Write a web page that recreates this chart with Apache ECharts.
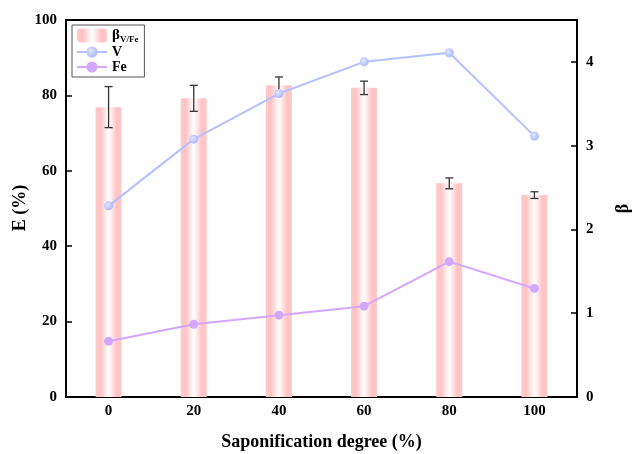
<!DOCTYPE html>
<html><head><meta charset="utf-8">
<script src="https://cdn.jsdelivr.net/npm/echarts@6/dist/echarts.min.js"></script>
<style>html,body{margin:0;padding:0;background:#fff}#c{width:636px;height:454px}</style>
</head><body><div id="c"></div>
<script>
var categories = ['0', '20', '40', '60', '80', '100'];
var betaValues = [3.46, 3.565, 3.72, 3.69, 2.55, 2.41];
var betaErrors = [0.245, 0.155, 0.1, 0.08, 0.065, 0.04];
var vValues = [50.7, 68.4, 80.5, 88.9, 91.3, 69.2];
var feValues = [14.8, 19.3, 21.7, 24.1, 35.9, 28.8];
var leftTicks = [0, 20, 40, 60, 80, 100];
var rightTicks = [0, 1, 2, 3, 4];
var leftTitle = 'E (%)';

var errData = betaValues.map(function (v, i) { return [i, v - betaErrors[i], v + betaErrors[i]]; });
var font = 'Liberation Serif';
var chart = echarts.init(document.getElementById('c'), null, {renderer: 'canvas'});
var barGrad = new echarts.graphic.LinearGradient(0, 0, 1, 0, [
  {offset: 0, color: '#ffcaca'}, {offset: 0.18, color: '#ffc2c2'},
  {offset: 0.5, color: '#ffffff'}, {offset: 0.82, color: '#ffc2c2'}, {offset: 1, color: '#ffcaca'}
]);
chart.setOption({
  animation: false,
  textStyle: {fontFamily: font},
  grid: {left: 66, right: 59, top: 20, bottom: 57, outerBoundsMode: 'none', containLabel: false,
    show: true, borderColor: '#000', borderWidth: 2, backgroundColor: 'transparent'},
  graphic: [{
    type: 'text', x: 20, y: 208, rotation: Math.PI / 2,
    style: {text: leftTitle, align: 'center', verticalAlign: 'middle',
      font: 'bold 18px "Liberation Serif"', fill: '#000'}
  }],
  legend: {
    orient: 'vertical', left: 72, top: 25, padding: [3, 6, 3, 4], itemGap: 1,
    itemWidth: 30, itemHeight: 14,
    borderColor: '#555', borderWidth: 1,
    data: ['beta', 'V', 'Fe'],
    formatter: function (n) { return n === 'beta' ? '{b|β}{s|V/Fe}' : n; },
    textStyle: {fontFamily: font, fontWeight: 'bold', fontSize: 14, color: '#000',
      rich: {b: {fontFamily: font, fontWeight: 'bold', fontSize: 15, color: '#000'},
             s: {fontFamily: font, fontWeight: 'bold', fontSize: 9, color: '#000', padding: [8, 0, 0, 0]}}}
  },
  xAxis: {
    type: 'category', data: categories, boundaryGap: true,
    name: 'Saponification degree (%)', nameLocation: 'middle', nameGap: 36,
    nameTextStyle: {fontFamily: font, fontWeight: 'bold', fontSize: 18, color: '#000'},
    axisLine: {lineStyle: {color: '#000', width: 2}},
    axisTick: {inside: true, alignWithLabel: true, length: 5, lineStyle: {color: '#000', width: 1.5}},
    axisLabel: {fontFamily: font, fontWeight: 'bold', fontSize: 15, color: '#000', margin: 7},
    splitLine: {show: false}
  },
  yAxis: [{
    type: 'value', min: 0, max: 100, interval: 20, position: 'left',
    axisLine: {show: true, lineStyle: {color: '#000', width: 2}},
    axisTick: {show: true, inside: true, length: 6, lineStyle: {color: '#000', width: 1.5}},
    axisLabel: {fontFamily: font, fontWeight: 'bold', fontSize: 15, color: '#000', margin: 9,
      formatter: function (v) { return leftTicks.indexOf(v) >= 0 ? String(v) : ''; }},
    splitLine: {show: false}
  }, {
    type: 'value', min: 0, max: 4.5, interval: 1, position: 'right',
    name: 'β', nameLocation: 'middle', nameGap: 37, nameRotate: 90,
    nameTextStyle: {fontFamily: font, fontWeight: 'bold', fontSize: 18, color: '#000'},
    axisLine: {show: true, lineStyle: {color: '#000', width: 2}},
    axisTick: {show: true, inside: true, length: 6, lineStyle: {color: '#000', width: 1.5}},
    axisLabel: {fontFamily: font, fontWeight: 'bold', fontSize: 15, color: '#000', margin: 9,
      formatter: function (v) { return rightTicks.indexOf(v) >= 0 ? String(v) : ''; }},
    splitLine: {show: false}
  }],
  series: [{
    name: 'beta', type: 'bar', yAxisIndex: 1, data: betaValues, barWidth: 26,
    itemStyle: {color: barGrad}, z: 1
  }, {
    name: 'errors', type: 'custom', yAxisIndex: 1, data: errData, z: 3,
    renderItem: function (params, api) {
      var lo = api.coord([api.value(0), api.value(1)]);
      var hi = api.coord([api.value(0), api.value(2)]);
      var x = lo[0], h = 4;
      var st = {stroke: '#333', lineWidth: 1.3, fill: null};
      return {type: 'group', children: [
        {type: 'line', shape: {x1: x, y1: lo[1], x2: x, y2: hi[1]}, style: st},
        {type: 'line', shape: {x1: x - h, y1: lo[1], x2: x + h, y2: lo[1]}, style: st},
        {type: 'line', shape: {x1: x - h, y1: hi[1], x2: x + h, y2: hi[1]}, style: st}
      ]};
    }
  }, {
    name: 'V', type: 'line', yAxisIndex: 0, data: vValues, z: 4,
    symbol: 'circle', symbolSize: 9,
    lineStyle: {color: '#b4c0ff', width: 2},
    itemStyle: {color: new echarts.graphic.RadialGradient(0.4, 0.4, 0.6, [
      {offset: 0, color: '#e4e9ff'}, {offset: 1, color: '#aab8ff'}])}
  }, {
    name: 'Fe', type: 'line', yAxisIndex: 0, data: feValues, z: 4,
    symbol: 'circle', symbolSize: 9,
    lineStyle: {color: '#d3a6ff', width: 2},
    itemStyle: {color: '#d3a6ff'}
  }]
});
</script></body></html>
